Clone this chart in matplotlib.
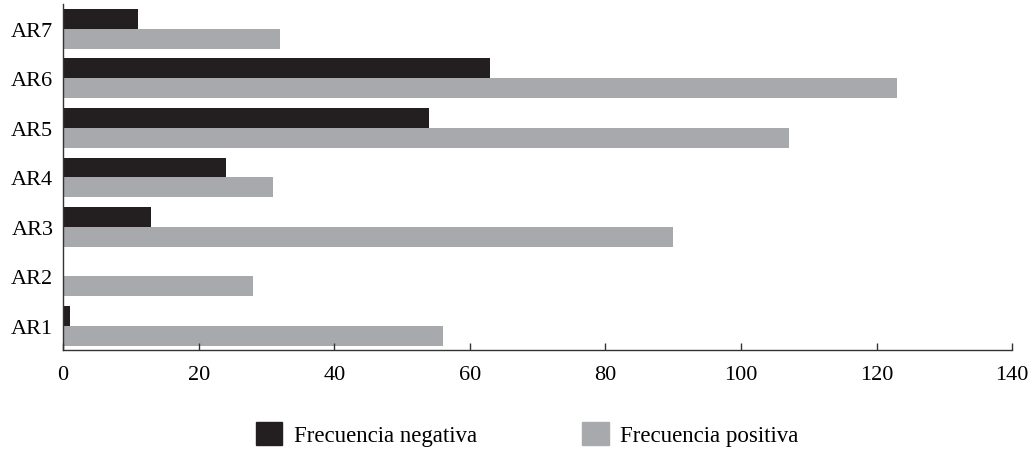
import matplotlib
matplotlib.use("Agg")
import matplotlib.pyplot as plt
import numpy as np
from matplotlib.patches import Patch

categorias = ["AR1", "AR2", "AR3", "AR4", "AR5", "AR6", "AR7"]
frec_negativa = [1, 0, 13, 24, 54, 63, 11]
frec_positiva = [56, 28, 90, 31, 107, 123, 32]
xticks = [0, 20, 40, 60, 80, 100, 120, 140]

color_neg = "#231f20"
color_pos = "#a7a9ac"

plt.rcParams["font.family"] = ["Liberation Serif", "DejaVu Serif"]

fig = plt.figure(figsize=(10.34, 4.52), dpi=100)
ax = fig.add_axes([0.061, 0.224, 0.918, 0.765])

y = np.arange(len(categorias))
h = 0.4
ax.barh(y + h / 2, frec_negativa, height=h, color=color_neg)
ax.barh(y - h / 2, frec_positiva, height=h, color=color_pos)

ax.set_xlim(0, 140)
ax.set_ylim(-0.48, 6.5)
ax.set_xticks(xticks)
ax.set_yticks(y)
ax.set_yticklabels(categorias)
ax.tick_params(axis="x", direction="in", length=5, width=1, color="#333333",
               labelsize=16, pad=11)
ax.tick_params(axis="y", length=0, labelsize=16, pad=7)
for lbl in ax.get_yticklabels():
    lbl.set_va("center_baseline")
for s in ["top", "right"]:
    ax.spines[s].set_visible(False)
for s in ["left", "bottom"]:
    ax.spines[s].set_color("#333333")
    ax.spines[s].set_linewidth(1)

handles = [Patch(color=color_neg, label="Frecuencia negativa"),
           Patch(color=color_pos, label="Frecuencia positiva")]
fig.legend(handles=handles, loc="center", bbox_to_anchor=(0.51, 0.037), ncol=2,
           frameon=False, fontsize=16.5, handlelength=1.15, handleheight=1.15,
           handletextpad=0.5, columnspacing=4.6)

fig.savefig("out.png", dpi=100)
